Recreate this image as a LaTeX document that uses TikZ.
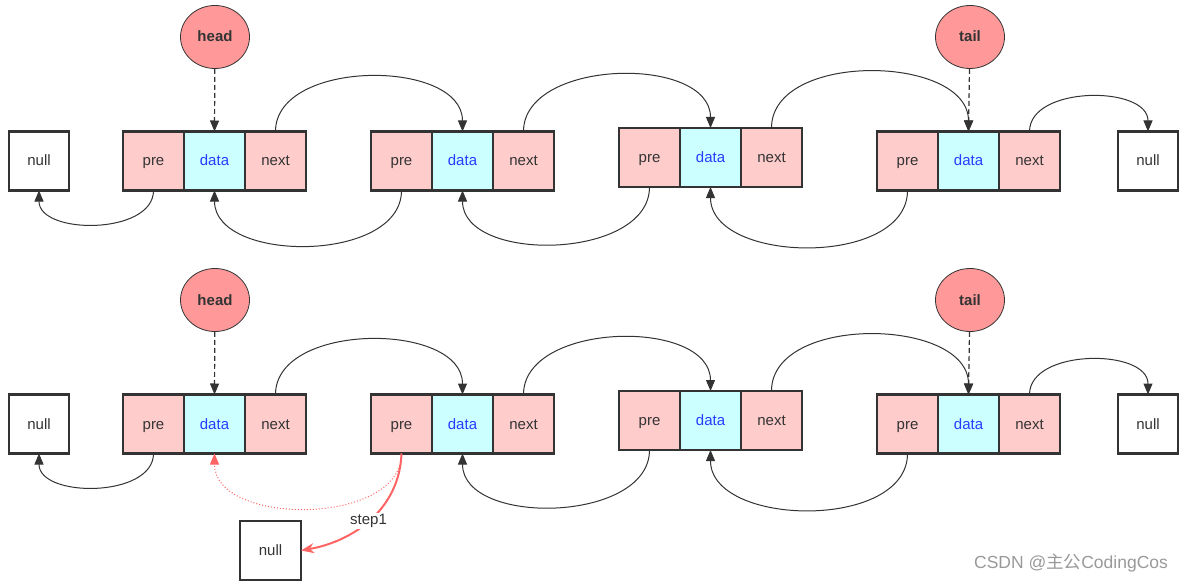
\documentclass[tikz,border=0pt]{standalone}
\usepackage{fontspec}
\setmainfont{Liberation Sans}
\newfontfamily\cjk{Noto Sans CJK SC}
\usepackage{tikz}
\usetikzlibrary{shapes.geometric, arrows.meta, positioning}
\definecolor{linegray}{RGB}{51, 51, 51}
\definecolor{precolor}{RGB}{255, 204, 204}
\definecolor{datacolor}{RGB}{204, 255, 255}
\definecolor{datatext}{RGB}{40, 60, 255}
\definecolor{ptrcolor}{RGB}{255, 153, 153}
\definecolor{stepred}{RGB}{255, 100, 100}

\begin{document}
\begin{tikzpicture}[
    x=1pt, y=-1pt,
    cell/.style={draw=linegray, line width=2.5pt, minimum width=61pt, minimum height=59pt, inner sep=0pt, outer sep=0pt, text height=12pt, text depth=2pt, font=\fontsize{15}{18}\selectfont, text=linegray},
    prebox/.style={cell, fill=precolor},
    databox/.style={cell, fill=datacolor, text=datatext},
    nextbox/.style={cell, fill=precolor},
    nullbox/.style={cell, fill=white, minimum width=60pt},
    ptr/.style={ellipse, draw=linegray, line width=0.8pt, fill=ptrcolor, minimum width=69pt, minimum height=63pt, inner sep=0pt, text height=12pt, text depth=2pt, font=\bfseries\fontsize{15}{18}\selectfont, text=linegray},
    link/.style={-{Triangle[length=11pt, width=9pt]}, line width=1pt, linegray},
    ptrlink/.style={link, line width=1.2pt, dash pattern=on 5pt off 3pt},
    steplink/.style={-{Stealth[length=13pt, width=10pt, inset=4pt]}, line width=2pt, stepred}
]
    \useasboundingbox (0,0) rectangle (1189,583);

    % Nodes - top row
    \node[nullbox] (nullA) at (39,161) {null};
    \node[prebox] (preA1) at (153.5,161) {pre};
    \node[databox, right=0pt of preA1] (dataA1) {data};
    \node[nextbox, right=0pt of dataA1] (nextA1) {next};
    \node[prebox] (preA2) at (401.5,161) {pre};
    \node[databox, right=0pt of preA2] (dataA2) {data};
    \node[nextbox, right=0pt of dataA2] (nextA2) {next};
    \node[prebox] (preA3) at (649.5,157.5) {pre};
    \node[databox, right=0pt of preA3] (dataA3) {data};
    \node[nextbox, right=0pt of dataA3] (nextA3) {next};
    \node[prebox] (preA4) at (907.5,161) {pre};
    \node[databox, right=0pt of preA4] (dataA4) {data};
    \node[nextbox, right=0pt of dataA4] (nextA4) {next};
    \node[nullbox] (nullB) at (1148,161) {null};
    \node[ptr] (headA) at (215,37) {head};
    \node[ptr] (tailA) at (970,37) {tail};

    % Arrows - top row
    \draw[ptrlink] (headA) -- (dataA1.north);
    \draw[ptrlink] (tailA) -- (dataA4.north);
    \draw[link] (nextA1.north) to[out=90, in=90] (dataA2.north);
    \draw[link] (nextA2.north) to[out=90, in=90] (dataA3.north);
    \draw[link] (nextA3.north) to[out=90, in=90] (dataA4.north);
    \draw[link] (nextA4.north) to[out=90, in=90] (nullB.north);
    \draw[link] (preA1.south) to[out=-90, in=-90] (nullA.south);
    \draw[link] (preA2.south) to[out=-90, in=-90] (dataA1.south);
    \draw[link] (preA3.south) to[out=-90, in=-90] (dataA2.south);
    \draw[link] (preA4.south) to[out=-90, in=-90] (dataA3.south);

    % Nodes - bottom row
    \node[nullbox] (nullC) at (39,424) {null};
    \node[prebox] (preB1) at (153.5,424) {pre};
    \node[databox, right=0pt of preB1] (dataB1) {data};
    \node[nextbox, right=0pt of dataB1] (nextB1) {next};
    \node[prebox] (preB2) at (401.5,424) {pre};
    \node[databox, right=0pt of preB2] (dataB2) {data};
    \node[nextbox, right=0pt of dataB2] (nextB2) {next};
    \node[prebox] (preB3) at (649.5,420.5) {pre};
    \node[databox, right=0pt of preB3] (dataB3) {data};
    \node[nextbox, right=0pt of dataB3] (nextB3) {next};
    \node[prebox] (preB4) at (907.5,424) {pre};
    \node[databox, right=0pt of preB4] (dataB4) {data};
    \node[nextbox, right=0pt of dataB4] (nextB4) {next};
    \node[nullbox] (nullD) at (1148,424) {null};
    \node[nullbox, minimum width=61pt] (nullE) at (270.5,550.5) {null};
    \node[ptr] (headB) at (215,300) {head};
    \node[ptr] (tailB) at (970,300) {tail};

    % Arrows - bottom row
    \draw[ptrlink] (headB) -- (dataB1.north);
    \draw[ptrlink] (tailB) -- (dataB4.north);
    \draw[link] (nextB1.north) to[out=90, in=90] (dataB2.north);
    \draw[link] (nextB2.north) to[out=90, in=90] (dataB3.north);
    \draw[link] (nextB3.north) to[out=90, in=90] (dataB4.north);
    \draw[link] (nextB4.north) to[out=90, in=90] (nullD.north);
    \draw[link] (preB1.south) to[out=-90, in=-90] (nullC.south);
    \draw[link] (preB3.south) to[out=-90, in=-90] (dataB2.south);
    \draw[link] (preB4.south) to[out=-90, in=-90] (dataB3.south);

    % step1: pre of the second node is cut loose
    \draw[-{Triangle[length=11pt, width=9pt]}, stepred, line width=1pt, dotted] (preB2.south) to[out=-90, in=-90] (dataB1.south);
    \draw[steplink] (preB2.south) to[out=-92, in=10] node[pos=0.52, fill=white, inner sep=1pt, text=linegray, font=\fontsize{15}{18}\selectfont] (stepA) {step1} (nullE.east);

    \node[font=\fontsize{17.5}{20}\selectfont, text=gray!80] (mark) at (1071,563) {CSDN @{\cjk 主公}CodingCos};
\end{tikzpicture}
\end{document}
